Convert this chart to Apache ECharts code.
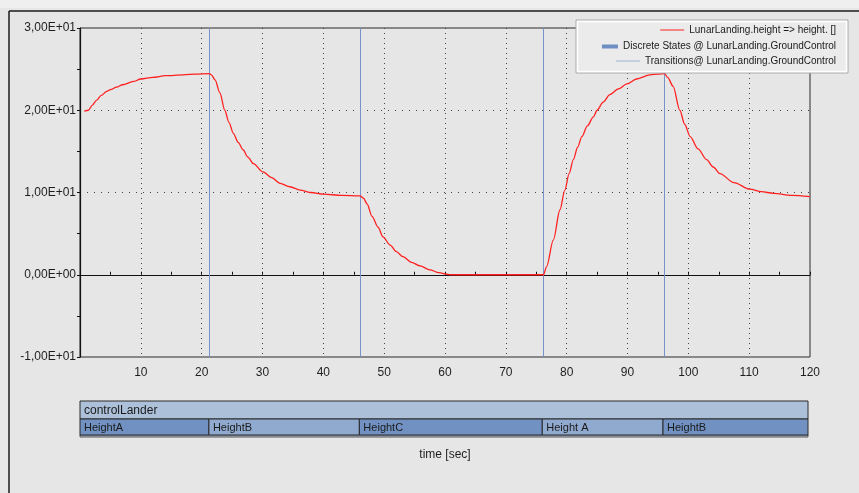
<!DOCTYPE html>
<html>
<head>
<meta charset="utf-8">
<script src="https://cdn.jsdelivr.net/npm/echarts@6/dist/echarts.min.js"></script>
<style>
html,body{margin:0;padding:0;background:#e6e6e6;}
#chart{width:859px;height:493px;}
</style>
</head>
<body>
<div id="chart"></div>
<script>
// ---- data ----
const seriesName = 'LunarLanding.height => height. []';
const statesName = 'Discrete States @ LunarLanding.GroundControl';
const transName = 'Transitions@ LunarLanding.GroundControl';

const times = [0.7, 1.4, 2, 2.7, 3.5, 4.4, 5, 6, 7, 8.8, 10, 12, 14, 17, 19, 21.25,
  21.6, 22.2, 23.0, 23.8, 24.5, 25.2, 26.0, 26.8, 27.6, 28.5, 30.1, 31.5, 32.9, 34.5, 36.2, 38, 40.0, 43, 46.05,
  46.6, 47.2, 48, 49, 49.8, 51, 52, 53.1, 54.5, 55.9, 57.5, 59, 60.5,
  61, 76.2,
  76.7, 77.8, 78.9, 79.7, 80.4, 81.1, 81.8, 82.5, 83.4, 84.4, 85, 86, 87.1, 88.5, 89.9, 91.5, 93.7, 95, 96.1,
  96.6, 97.5, 98.6, 99.4, 100.3, 101.6, 103.0, 104.1, 105.2, 107.5, 110.1, 112, 114, 117, 120];
const heights = [19.9, 20.0, 20.6, 21.2, 21.8, 22.3, 22.5, 22.8, 23.1, 23.5, 23.8, 24.0, 24.2, 24.3, 24.4, 24.45,
  24.3, 23.7, 22.1, 20.0, 18.5, 17.2, 16.1, 15.2, 14.3, 13.5, 12.5, 11.8, 11.1, 10.7, 10.3, 10.0, 9.8, 9.65, 9.6,
  9.3, 8.6, 7.1, 5.8, 4.6, 3.6, 2.8, 2.2, 1.5, 1.07, 0.6, 0.25, 0.05,
  0, 0,
  1.0, 4.2, 7.9, 10.3, 12.3, 14.0, 15.5, 16.8, 18.1, 19.2, 20.0, 21.0, 21.9, 22.6, 23.2, 23.8, 24.3, 24.4, 24.45,
  24.0, 22.9, 20.0, 18.3, 16.8, 15.3, 14.0, 13.1, 12.3, 11.2, 10.4, 10.1, 9.9, 9.65, 9.5];

const transitionTimes = [21.25, 46.05, 76.2, 96.1];

const machineName = 'controlLander';
const stateNames = ['HeightA', 'HeightB', 'HeightC', 'Height A', 'HeightB'];
const stateStarts = [0, 21.25, 46.05, 76.2, 96.1];
const stateEnds = [21.25, 46.05, 76.2, 96.1, 120];

const yTickValues = [-10, 0, 10, 20, 30];
const yTickLabels = ['-1,00E+01', '0,00E+00', '1,00E+01', '2,00E+01', '3,00E+01'];
const xTickValues = [0, 10, 20, 30, 40, 50, 60, 70, 80, 90, 100, 110, 120];
const xTickLabels = ['', '10', '20', '30', '40', '50', '60', '70', '80', '90', '100', '110', '120'];
const xAxisTitle = 'time [sec]';

// ---- build ----
const lineData = times.map((t, i) => [t, heights[i]]);
const stateData = [[0, 120, 1]].concat(stateStarts.map((s, i) => [s, stateEnds[i], 0]));
const stateLabels = [machineName].concat(stateNames);

const FONT = 'Liberation Sans, Arial, sans-serif';
const chart = echarts.init(document.getElementById('chart'));

function renderState(params, api) {
  const cs = params.coordSys;
  const x0 = api.coord([api.value(0), 0])[0];
  const x1 = api.coord([api.value(1), 0])[0];
  const row = api.value(2);
  const headerH = 18;
  const label = stateLabels[params.dataIndex];
  if (row === 1) {
    return {
      type: 'group',
      children: [
        {type: 'rect', shape: {x: x0, y: cs.y, width: x1 - x0, height: headerH},
          style: {fill: '#adc0da', stroke: '#2a2a2a', lineWidth: 1}},
        {type: 'rect', shape: {x: x0, y: cs.y + cs.height, width: x1 - x0, height: 2},
          style: {fill: '#b4c4dc', stroke: '#555', lineWidth: 1}},
        {type: 'text', style: {text: label, x: x0 + 4, y: cs.y + headerH / 2 + 1,
          fill: '#1a1a1a', fontSize: 12, fontFamily: FONT, verticalAlign: 'middle', align: 'left'}}
      ]
    };
  }
  const dark = params.dataIndex % 2 === 1;
  return {
    type: 'group',
    children: [
      {type: 'rect', shape: {x: x0, y: cs.y + headerH, width: x1 - x0, height: cs.height - headerH},
        style: {fill: dark ? '#7091c1' : '#90a9cf', stroke: '#2a2a2a', lineWidth: 1}},
      {type: 'text', style: {text: label, x: x0 + 4, y: cs.y + headerH + (cs.height - headerH) / 2 + 1,
        fill: '#1a1a1a', fontSize: 11, fontFamily: FONT, verticalAlign: 'middle', align: 'left'}}
    ]
  };
}

const legendCommon = {
  orient: 'horizontal', right: 23, padding: 0, selectedMode: false, align: 'left', z: 120,
  textStyle: {fontSize: 10, color: '#1a1a1a', fontFamily: FONT}
};

const option = {
  backgroundColor: '#e6e6e6',
  animation: false,
  textStyle: {fontFamily: FONT},
  graphic: [
    {type: 'rect', z: -10, shape: {x: 0, y: 0, width: 859, height: 8}, style: {fill: '#efefef'}},
    {type: 'line', z: 100, shape: {x1: 9, y1: 11, x2: 859, y2: 11}, style: {stroke: '#1a1a1a', lineWidth: 1.5}},
    {type: 'line', z: 100, shape: {x1: 9, y1: 11, x2: 9, y2: 493}, style: {stroke: '#1a1a1a', lineWidth: 1.5}},
    {type: 'rect', z: 100, shape: {x: 576, y: 20, width: 272, height: 53},
      style: {fill: '#ebebeb', stroke: '#a8a8a8', lineWidth: 1}},
    {type: 'rect', z: 101, shape: {x: 577.5, y: 21.5, width: 269, height: 50},
      style: {fill: 'none', stroke: '#ffffff', lineWidth: 1.5}}
  ],
  legend: [
    Object.assign({}, legendCommon, {top: 25, itemWidth: 24, itemHeight: 1,
      data: [{name: seriesName, icon: 'rect', itemStyle: {color: '#ff2020'}}]}),
    Object.assign({}, legendCommon, {top: 41.5, itemWidth: 16, itemHeight: 4, itemGap: 0,
      data: [{name: statesName, icon: 'rect', itemStyle: {color: '#6f8fc2'}}]}),
    Object.assign({}, legendCommon, {top: 56, itemWidth: 24, itemHeight: 1,
      data: [{name: transName, icon: 'rect', itemStyle: {color: '#9db2d8'}}]})
  ],
  grid: [
    {left: 80, right: 49, top: 28, bottom: 136, show: true, borderColor: '#2a2a2a', borderWidth: 1, backgroundColor: 'transparent'},
    {left: 80, right: 51, top: 401, height: 34, show: false}
  ],
  xAxis: [
    {type: 'value', gridIndex: 0, min: 0, max: 120, interval: 10, position: 'bottom',
      axisLine: {show: false, onZero: false}, axisTick: {show: false},
      axisLabel: {fontSize: 12, color: '#1e1e1e', margin: 10, fontFamily: FONT,
        formatter: v => { const i = xTickValues.indexOf(v); return i >= 0 ? xTickLabels[i] : ''; }},
      splitLine: {show: true, showMinLine: false, showMaxLine: false, lineStyle: {color: '#444', type: [1, 4], width: 1}},
      name: xAxisTitle, nameLocation: 'middle', nameGap: 92,
      nameTextStyle: {fontSize: 12, color: '#1e1e1e', fontFamily: FONT}},
    {type: 'value', gridIndex: 0, min: 0, max: 120, interval: 5, position: 'top',
      axisLine: {show: true, onZero: true, onZeroAxisIndex: 0, lineStyle: {color: '#111', width: 1}},
      axisTick: {show: true, length: 3, inside: false, lineStyle: {color: '#111'}},
      axisLabel: {show: false}, splitLine: {show: false}},
    {type: 'value', gridIndex: 1, min: 0, max: 120, show: false}
  ],
  yAxis: [
    {type: 'value', gridIndex: 0, min: -10, max: 30, interval: 10,
      axisLine: {show: true, onZero: false, lineStyle: {color: '#111', width: 1.2}},
      axisTick: {show: true, length: 3, lineStyle: {color: '#111'}},
      minorTick: {show: true, splitNumber: 2, length: 3, lineStyle: {color: '#111'}},
      axisLabel: {fontSize: 12, color: '#1e1e1e', margin: 4, fontFamily: FONT,
        formatter: v => { const i = yTickValues.indexOf(v); return i >= 0 ? yTickLabels[i] : ''; }},
      splitLine: {show: true, showMinLine: false, showMaxLine: false, lineStyle: {color: '#444', type: [1, 6], width: 1}}},
    {type: 'value', gridIndex: 1, min: 0, max: 1, show: false}
  ],
  series: [
    {name: transName, type: 'line', xAxisIndex: 0, yAxisIndex: 0, data: [], z: 3,
      itemStyle: {color: '#9db2d8'},
      markLine: {symbol: ['none', 'none'], silent: true, animation: false,
        label: {show: false}, emphasis: {disabled: true},
        lineStyle: {color: '#7593c8', width: 1, type: 'solid'},
        data: transitionTimes.map(t => ({xAxis: t}))}},
    {name: seriesName, type: 'line', xAxisIndex: 0, yAxisIndex: 0, data: lineData, z: 5,
      showSymbol: false, symbol: 'none', smooth: 0.3, smoothMonotone: 'x',
      lineStyle: {color: '#ff2020', width: 1.3}, itemStyle: {color: '#ff2020'}},
    {name: statesName, type: 'custom', xAxisIndex: 2, yAxisIndex: 1, data: stateData,
      renderItem: renderState, clip: false, itemStyle: {color: '#6f8fc2'}, silent: true}
  ]
};
chart.setOption(option);
</script>
</body>
</html>
